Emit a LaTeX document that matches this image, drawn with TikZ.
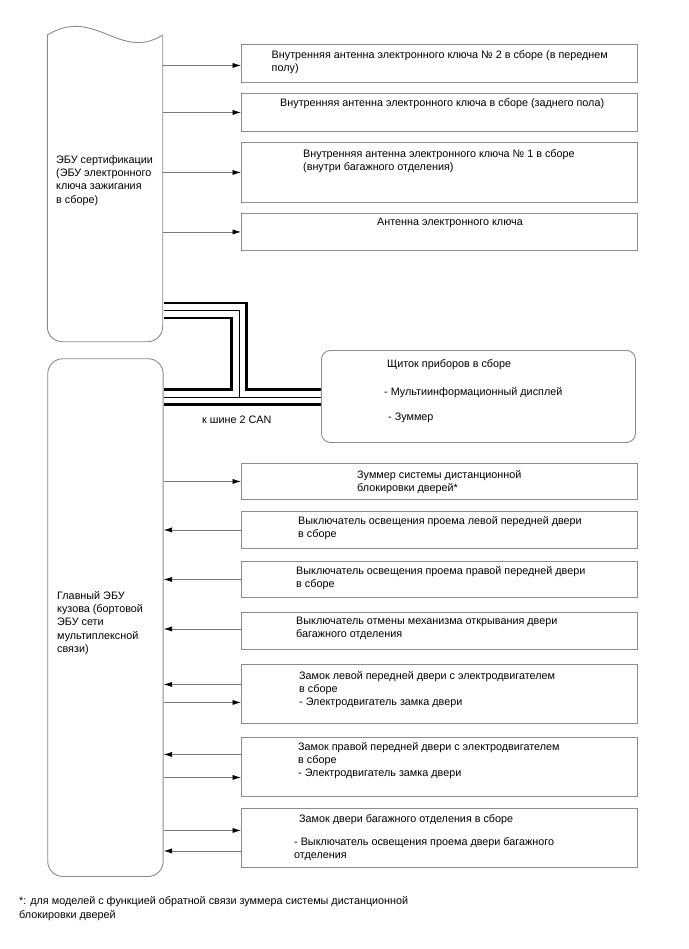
\documentclass[tikz,border=0pt]{standalone}
\usepackage{fontspec}
\setmainfont{Liberation Sans}
\usetikzlibrary{arrows.meta}
\newcommand\dfont{\fontsize{10.8}{13.2}\selectfont}
\definecolor{bordergray}{RGB}{140,140,140}
\definecolor{linegray}{RGB}{120,120,120}
\tikzset{
  box/.style={draw=bordergray, line width=0.9pt, anchor=north west, inner sep=0pt, minimum width=396pt},
  ecushape/.style={draw=bordergray, line width=0.9pt},
  txt/.style={anchor=base west, align=left, inner sep=0pt, font=\dfont, text=black},
  conn/.style={draw=linegray, line width=0.8pt, -{Latex[length=8.5pt,width=5.2pt,color=black]}},
  busout/.style={line width=17.5pt, black, line join=miter},
  busin/.style={line width=12.5pt, white, line join=miter},
  busmid/.style={line width=0.9pt, black, line join=miter},
}
\begin{document}
\begin{tikzpicture}[x=1pt,y=-1pt]
\useasboundingbox[fill=white] (0,0) rectangle (688,949);

% ECU 1 (wavy top)
\node[inner sep=0pt, minimum width=115.4pt, minimum height=316pt, anchor=north west] (ecu1) at (47.3,26) {};
\draw[ecushape] (47.3,35) .. controls (95,6) and (120,62) .. (162.7,35);
\draw[ecushape, rounded corners=15pt] (162.7,35) -- (162.7,341.7) -- (47.3,341.7) -- (47.3,35);
\node[txt] (ecu1t) at (56,203.1) {ЭБУ сертификации\\(ЭБУ электронного\\ключа зажигания\\в сборе)};

% ECU 2
\node[ecushape, rounded corners=15pt, inner sep=0pt, minimum width=115.4pt, minimum height=517.7pt, anchor=north west] (ecu2) at (47.3,358.3) {};
\node[txt] (ecu2t) at (57,652.3) {Главный ЭБУ\\кузова (бортовой\\ЭБУ сети\\мультиплексной\\связи)};

% right boxes, upper group
\node[box, minimum height=38pt] (b1) at (241,44) {};
\node[txt] (b1t) at (271.5,71.7) {Внутренняя антенна электронного ключа № 2 в сборе (в переднем\\полу)};
\node[box, minimum height=38pt] (b2) at (241,93) {};
\node[txt] (b2t) at (280,106.5) {Внутренняя антенна электронного ключа в сборе (заднего пола)};
\node[box, minimum height=60pt] (b3) at (241,142) {};
\node[txt] (b3t) at (303,170.7) {Внутренняя антенна электронного ключа № 1 в сборе\\(внутри багажного отделения)};
\node[box, minimum height=37pt] (b4) at (241,213) {};
\node[txt] (b4t) at (377,225.5) {Антенна электронного ключа};

% instrument cluster
\node[draw=bordergray, line width=0.9pt, rounded corners=9pt, inner sep=0pt, minimum width=314pt, minimum height=92pt, anchor=north west] (cl) at (321,350) {};
\node[txt] (clt1) at (387,367.5) {Щиток приборов в сборе};
\node[txt] (clt2) at (384,395.5) {- Мультиинформационный дисплей};
\node[txt] (clt3) at (388,420.5) {- Зуммер};

% lower group
\node[box, minimum height=36pt] (b5) at (241,463) {};
\node[txt] (b5t) at (357,491.7) {Зуммер системы дистанционной\\блокировки дверей*};
\node[box, minimum height=37pt] (b6) at (241,511) {};
\node[txt] (b6t) at (298,537.7) {Выключатель освещения проема левой передней двери\\в сборе};
\node[box, minimum height=36pt] (b7) at (241,561) {};
\node[txt] (b7t) at (296,587.7) {Выключатель освещения проема правой передней двери\\в сборе};
\node[box, minimum height=37pt] (b8) at (241,612) {};
\node[txt] (b8t) at (296,637.7) {Выключатель отмены механизма открывания двери\\багажного отделения};
\node[box, minimum height=59pt] (b9) at (241,664) {};
\node[txt] (b9t) at (299,705.9) {Замок левой передней двери с электродвигателем\\в сборе\\- Электродвигатель замка двери};
\node[box, minimum height=59pt] (b10) at (241,737) {};
\node[txt] (b10t) at (298,776.9) {Замок правой передней двери с электродвигателем\\в сборе\\- Электродвигатель замка двери};
\node[box, minimum height=59pt] (b11) at (241,808) {};
\node[txt] (b11t) at (299,822.5) {Замок двери багажного отделения в сборе};
\node[txt] (b11u) at (294,858.7) {- Выключатель освещения проема двери багажного\\отделения};

% connectors, upper
\coordinate (a1) at ([yshift=-2pt]b1.west);
\draw[conn] (ecu1.east |- a1) -- (a1);
\draw[conn] (ecu1.east |- b2.west) -- (b2.west);
\draw[conn] (ecu1.east |- b3.west) -- (b3.west);
\draw[conn] (ecu1.east |- b4.west) -- (b4.west);

% connectors, lower
\draw[conn] (ecu2.east |- b5.west) -- (b5.west);
\draw[conn] (b6.west) -- (ecu2.east |- b6.west);
\draw[conn] (b7.west) -- (ecu2.east |- b7.west);
\coordinate (a8) at ([yshift=2pt]b8.west);
\draw[conn] (a8) -- (ecu2.east |- a8);
\coordinate (a9l) at ([yshift=9.5pt]b9.west);
\coordinate (a9r) at ([yshift=-8.5pt]b9.west);
\draw[conn] (a9l) -- (ecu2.east |- a9l);
\draw[conn] (ecu2.east |- a9r) -- (a9r);
\coordinate (a10l) at ([yshift=12.5pt]b10.west);
\coordinate (a10r) at ([yshift=-10.5pt]b10.west);
\draw[conn] (a10l) -- (ecu2.east |- a10l);
\draw[conn] (ecu2.east |- a10r) -- (a10r);
\coordinate (a11r) at ([yshift=7.5pt]b11.west);
\coordinate (a11l) at ([yshift=-13pt]b11.west);
\draw[conn] (ecu2.east |- a11r) -- (a11r);
\draw[conn] (a11l) -- (ecu2.east |- a11l);

% CAN bus
\coordinate (j1) at (239.2,310.3);
\coordinate (j2) at (239.2,397);
\coordinate (e1) at ([xshift=0.5pt]ecu1.east |- j1);
\coordinate (e2) at ([xshift=0.5pt]ecu2.east |- j2);
\coordinate (e3) at ([xshift=-0.5pt]cl.west |- j2);
\draw[busout] (e1) -- (j1) -- (j2);
\draw[busout] (e2) -- (e3);
\draw[busin] (e1) -- (j1) -- (j2);
\draw[busin] (e2) -- (e3);
\draw[busmid] (e1) -- (j1) -- (j2);
\draw[busmid] (e2) -- (e3);
\node[txt] (can) at (202,423.5) {к шине 2 CAN};

% footnote
\node[txt] (fn) at (19,918) {*: для моделей с функцией обратной связи зуммера системы дистанционной\\блокировки дверей};
\end{tikzpicture}
\end{document}
